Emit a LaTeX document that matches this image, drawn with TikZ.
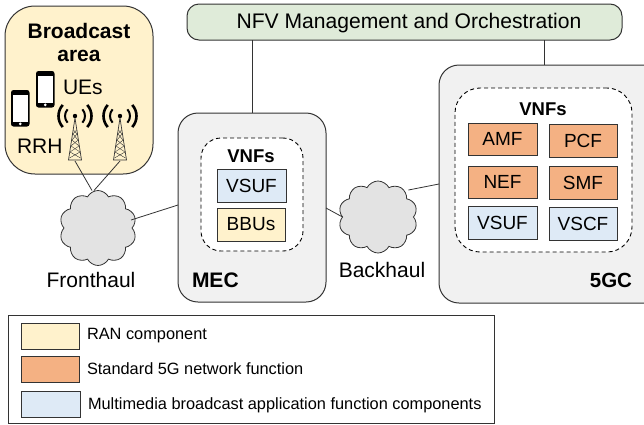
\documentclass[tikz,border=0pt]{standalone}
\usepackage{fontspec}
\setmainfont{Liberation Sans}
\usetikzlibrary{shapes.symbols,calc}
\definecolor{ranc}{HTML}{FFF2CC}
\definecolor{nfc}{HTML}{F4B183}
\definecolor{mmc}{HTML}{DEEAF6}
\definecolor{mgmt}{HTML}{DFEBD9}
\definecolor{hostc}{HTML}{F1F1F1}
\definecolor{cloudc}{HTML}{E3E3E3}
\definecolor{ink}{HTML}{333333}
\newcommand{\fs}[1]{\fontsize{#1}{#1}\selectfont}
\tikzset{
  x=1pt,y=-1pt,
  every node/.style={inner sep=0pt,outer sep=0pt,text=black},
  link/.style={draw=ink,line width=0.8pt},
  fnbox/.style={draw=ink,line width=1pt,font=\fs{19},anchor=north west},
  label/.style={font=\fs{21}},
  host/.style={draw=ink,line width=1pt,fill=hostc,rounded corners=20pt,anchor=north west},
  dashbox/.style={draw=black,line width=0.9pt,dash pattern=on 4pt off 3pt,fill=white,anchor=north west},
  bt/.style={font=\fs{18.5}\bfseries},
  cloudy/.style={cloud,cloud puffs=10,cloud puff arc=125,aspect=1.05,draw=ink,line width=0.8pt,fill=cloudc},
  swatch/.style={draw=ink,line width=1pt,anchor=north west},
  legtext/.style={font=\fs{16.35},anchor=west},
}
\newcommand{\fnb}[7]{\node[fnbox,fill=#2,minimum width=#5,minimum height=#6] (#1) at (#3,#4) {#7};}
\newcommand{\phone}[2]{%
  \fill[black,rounded corners=2.5pt] (#1,#2) rectangle ++(18.5,36.5);
  \fill[white] ($(#1,#2)+(2,5)$) rectangle ++(14.5,26.5);
  \fill[white] ($(#1,#2)+(9.25,33.8)$) circle (1.5);
}
\newcommand{\tower}[1]{%
  \draw[ink,line width=0.7pt] (#1,118) -- (#1-6.5,160) -- (#1+6.5,160) -- cycle;
  \draw[ink,line width=0.4pt] (#1-1.5,130) -- (#1+2,134) -- (#1-3,140) -- (#1+4,146) -- (#1-5,152) -- (#1+5.5,158);
  \draw[ink,line width=0.4pt] (#1+1.5,130) -- (#1-2,134) -- (#1+3,140) -- (#1-4,146) -- (#1+5,152) -- (#1-5.5,158);
  \fill[black] (#1,116) circle (2.2);
  \foreach \r/\w in {10/2,16.5/2.6}{
    \draw[black,line width=\w pt] ($(#1,116)+(42:\r)$) arc (42:-42:\r);
    \draw[black,line width=\w pt] ($(#1,116)+(138:\r)$) arc (138:222:\r);
  }
}
\begin{document}
\begin{tikzpicture}
\useasboundingbox (0,0) rectangle (644,424);
% broadcast area
\node[draw=ink,line width=1pt,fill=ranc,rounded corners=30pt,anchor=north west,minimum width=148,minimum height=168] (area) at (5,6) {};
\node[font=\fs{21}\bfseries] (t1) at (79,31) {Broadcast};
\node[font=\fs{21}\bfseries] (t2) at (79,56) {area};
\phone{11}{90}
\phone{36}{71}
\node[label,anchor=west] (ues) at (63,87) {UEs};
\node[label,anchor=west] (rrh) at (17,146) {RRH};
\tower{75}
\tower{120}
\coordinate (tw1) at (75,161);
\coordinate (tw2) at (120,161);
% management
\node[draw=ink,line width=1pt,fill=mgmt,rounded corners=12pt,anchor=north west,minimum width=435,minimum height=36] (nfv) at (187,4) {};
\node[font=\fs{21.1}] (nfvt) at (409,23) {NFV Management and Orchestration};
% MEC
\node[host,minimum width=148,minimum height=189] (mec) at (178,113) {};
\node[dashbox,rounded corners=20pt,minimum width=102,minimum height=113] (mecd) at (201,138) {};
\node[bt] (v1) at (251,156) {VNFs};
\fnb{mv}{mmc}{217}{169}{69}{33}{VSUF}
\fnb{mb}{ranc}{217}{208}{68}{33}{BBUs}
\node[font=\fs{21}\bfseries,anchor=west] (mect) at (192,280) {MEC};
% 5GC
\node[host,minimum width=225,minimum height=238] (gc) at (439,65) {};
\node[dashbox,rounded corners=25pt,minimum width=177,minimum height=164] (gcd) at (455,88) {};
\node[bt] (v2) at (543,109) {VNFs};
\fnb{amf}{nfc}{468}{123}{69}{32}{AMF}
\fnb{pcf}{nfc}{549}{124}{68}{33}{PCF}
\fnb{nef}{nfc}{468}{166}{69}{32}{NEF}
\fnb{smf}{nfc}{549}{166}{68}{33}{SMF}
\fnb{gv}{mmc}{468}{206}{69}{33}{VSUF}
\fnb{gs}{mmc}{549}{207}{68}{33}{VSCF}
\node[font=\fs{20.5}\bfseries,anchor=east] (gct) at (632,280) {5GC};
% clouds
\node[cloudy,minimum width=77,minimum height=75] (fh) at (98,228) {};
\node[cloudy,minimum width=79,minimum height=72] (bh) at (378,217) {};
\node[label] (fht) at (91,280) {Fronthaul};
\node[label] (bht) at (382,270) {Backhaul};
% connectors
\draw[link] (nfv.south -| mec.north) -- (mec.north);
\draw[link] (nfv.south -| 544,0) -- (gc.north -| 544,0);
\draw[link] (tw1) -- ($(fh.north)+(-6,0)$);
\draw[link] (tw2) -- ($(fh.north)+(-4,0)$);
\draw[link] ($(fh.east)+(-1,-8)$) -- (mec.west |- 0,205);
\draw[link] (mec.east |- 0,208) -- (bh.west);
\draw[link] ($(bh.east)+(-5,-27)$) -- (gc.west |- 0,184);
% legend
\node[draw=ink,line width=1pt,anchor=north west,minimum width=486,minimum height=108] (leg) at (8,315) {};
\node[swatch,fill=ranc,minimum width=58,minimum height=26] (s1) at (21,323) {};
\node[swatch,fill=nfc,minimum width=58,minimum height=26] (s2) at (21,356) {};
\node[swatch,fill=mmc,minimum width=59,minimum height=26] (s3) at (21,391) {};
\node[legtext] (l1) at (87,336) {RAN component};
\node[legtext] (l2) at (87,369) {Standard 5G network function};
\node[legtext] (l3) at (88,405) {Multimedia broadcast application function components};
\end{tikzpicture}
\end{document}
